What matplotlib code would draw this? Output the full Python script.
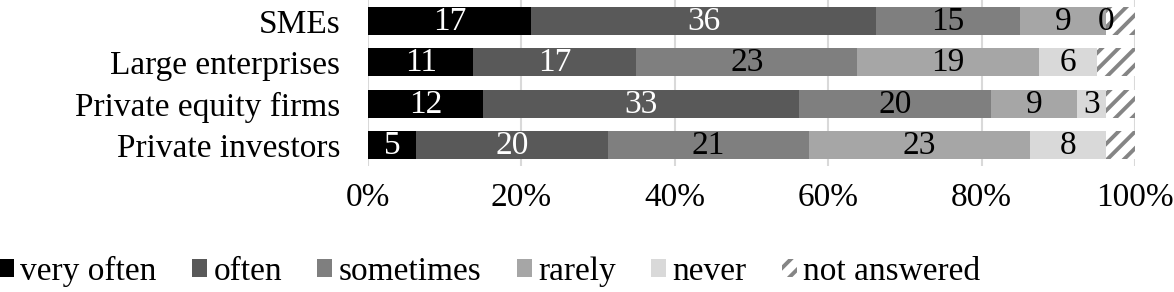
import matplotlib
matplotlib.use("Agg")
import matplotlib.pyplot as plt
from matplotlib.patches import Patch
import numpy as np

categories = ["SMEs", "Large enterprises", "Private equity firms", "Private investors"]
series_names = ["very often", "often", "sometimes", "rarely", "never", "not answered"]
very_often = [17, 11, 12, 5]
often = [36, 17, 33, 20]
sometimes = [15, 23, 20, 21]
rarely = [9, 19, 9, 23]
never = [0, 6, 3, 8]
not_answered = [3, 4, 3, 3]

colors = ["#000000", "#595959", "#7f7f7f", "#a6a6a6", "#d9d9d9", "#ffffff"]
text_colors = ["white", "white", "black", "black", "black", None]

plt.rcParams["font.family"] = ["Liberation Serif", "DejaVu Serif"]
plt.rcParams["hatch.linewidth"] = 2.8
plt.rcParams["hatch.color"] = "#858585"

FS = 24

fig = plt.figure(figsize=(11.74, 2.92), dpi=100)
ax = fig.add_axes([368 / 1174, 1 - 165.6 / 292, (1135 - 368) / 1174, 165.2 / 292])

data = np.array([very_often, often, sometimes, rarely, never, not_answered], dtype=float)
totals = data.sum(axis=0)
pct = data / totals * 100
y = np.arange(len(categories))
left = np.zeros(len(categories))
for i, name in enumerate(series_names):
    if name == "not answered":
        ax.barh(y, pct[i], left=left, height=0.68, color="white",
                edgecolor="#858585", hatch="//", linewidth=0, label=name, zorder=3)
    else:
        ax.barh(y, pct[i], left=left, height=0.68, color=colors[i],
                linewidth=0, label=name, zorder=3)
        for j in range(len(categories)):
            ax.text(left[j] + pct[i][j] / 2, y[j] + 0.02, f"{int(data[i][j])}",
                    ha="center", va="center", color=text_colors[i],
                    fontsize=FS, zorder=4)
    left += pct[i]

ax.set_xlim(0, 100)
ax.set_ylim(len(categories) - 0.5, -0.5)
ax.set_yticks(y)
ax.set_yticklabels(categories, fontsize=FS)
ax.set_xticks(np.arange(0, 101, 20))
ax.set_xticklabels([f"{v}%" for v in range(0, 101, 20)], fontsize=FS)
ax.tick_params(axis="both", length=0)
ax.tick_params(axis="y", pad=20)
ax.tick_params(axis="x", pad=12)
ax.grid(axis="x", color="#d9d9d9", linewidth=1.5, zorder=0)
for s in ax.spines.values():
    s.set_visible(False)

handles = []
for i, name in enumerate(series_names):
    if name == "not answered":
        handles.append(Patch(facecolor="white", edgecolor="#858585", hatch="//", linewidth=0, label=name))
    else:
        handles.append(Patch(facecolor=colors[i], linewidth=0, label=name))
fig.legend(handles=handles, loc="center left", bbox_to_anchor=(-0.001, 0.072),
           ncol=6, frameon=False, fontsize=FS, handlelength=0.45, handleheight=0.45,
           handletextpad=0.2, columnspacing=1.05, borderpad=0, borderaxespad=0)

fig.savefig("out.png", dpi=100)
